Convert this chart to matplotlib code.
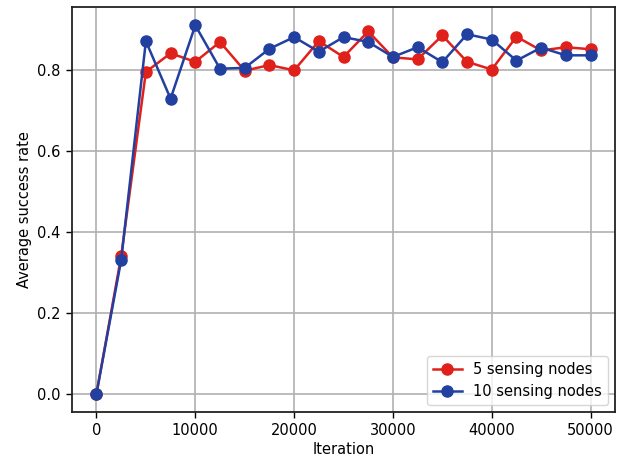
import matplotlib
matplotlib.use("Agg")
import matplotlib.pyplot as plt

iterations = [0, 2500, 5000, 7500, 10000, 12500, 15000, 17500, 20000, 22500, 25000,
              27500, 30000, 32500, 35000, 37500, 40000, 42500, 45000, 47500, 50000]
nodes5 = [0.0, 0.339, 0.794, 0.840, 0.819, 0.868, 0.797, 0.811, 0.798, 0.870, 0.831,
          0.894, 0.830, 0.825, 0.884, 0.819, 0.800, 0.881, 0.847, 0.855, 0.850]
nodes10 = [0.0, 0.330, 0.870, 0.728, 0.909, 0.802, 0.804, 0.851, 0.880, 0.844, 0.880,
           0.868, 0.831, 0.855, 0.818, 0.887, 0.874, 0.822, 0.854, 0.835, 0.835]

fig, ax = plt.subplots(figsize=(6.24, 4.61), dpi=100)
fig.subplots_adjust(left=0.115, right=0.986, top=0.985, bottom=0.106)

ax.plot(iterations, nodes5, '-o', color='#e0201b', lw=1.8, ms=8, label='5 sensing nodes')
ax.plot(iterations, nodes10, '-o', color='#2140a0', lw=1.8, ms=8, label='10 sensing nodes')

ax.grid(True, color='#b0b0b0', lw=1.2)
ax.set_axisbelow(True)
for s in ax.spines.values():
    s.set_linewidth(1.3)
    s.set_color('#222222')
ax.set_xlabel('Iteration', fontsize=10.5, labelpad=3)
ax.set_ylabel('Average success rate', fontsize=10.5)
ax.tick_params(labelsize=10.5, length=4.5, width=1.0)
ax.set_yticks([0.0, 0.2, 0.4, 0.6, 0.8])
ax.legend(loc='lower right', fontsize=10.5)

fig.savefig('out.png', dpi=100)
